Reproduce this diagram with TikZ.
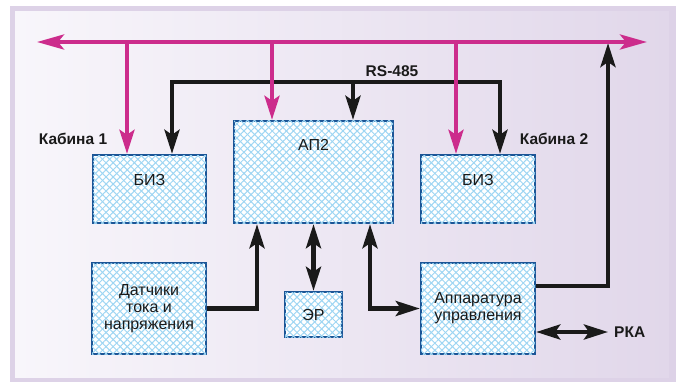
\documentclass[tikz,border=0pt]{standalone}
\usepackage{fontspec}
\setmainfont{Liberation Sans}
\usetikzlibrary{arrows.meta,patterns.meta}
\definecolor{mag}{HTML}{CC2C8C}
\definecolor{blk}{HTML}{1A1A1A}
\definecolor{boxblue}{HTML}{1B5596}
\definecolor{hatch}{HTML}{9ED6F3}
\definecolor{frameout}{HTML}{DDD2E7}
\definecolor{bgL}{HTML}{F8F6FB}
\definecolor{bgM}{HTML}{EDE7F3}
\definecolor{bgR}{HTML}{E1D7EA}
\tikzset{
  box/.style={draw=boxblue, line width=2.4pt, fill=white, inner sep=0pt, align=center,
    font=\fontsize{16}{17}\selectfont, text=blk,
    postaction={pattern={Lines[angle=45,distance=5pt,line width=1pt]}, pattern color=hatch},
    postaction={pattern={Lines[angle=-45,distance=5pt,line width=1pt]}, pattern color=hatch}},
  boxtext/.style={font=\fontsize{16}{17}\selectfont, text=blk, inner sep=0pt},
  lbl/.style={font=\fontsize{15.5}{18}\selectfont\bfseries, text=blk, inner sep=0pt},
  magline/.style={draw=mag, line width=4pt},
  blkline/.style={draw=blk, line width=4.2pt},
  stl/.tip={Stealth[length=24pt,width=15pt,inset=5pt]},
  bstl/.tip={Stealth[length=27pt,width=15pt,inset=6pt]}
}
\begin{document}
\begin{tikzpicture}[x=1pt,y=-1pt]
\useasboundingbox (0,0) rectangle (676,382);
\fill[frameout] (10,6) rectangle (676,382);
\shade[left color=bgL, middle color=bgM, right color=bgR] (15,12) rectangle (669,377);

% boxes
\node[box, minimum width=113pt, minimum height=68pt] (biz1) at (149.5,189) {};
\node[boxtext] (biz1t) at (149.5,180) {БИЗ};
\node[box, minimum width=159pt, minimum height=102pt] (ap2) at (313.5,172) {};
\node[boxtext] (ap2t) at (313.5,145) {АП2};
\node[box, minimum width=114pt, minimum height=68pt] (biz2) at (478,189) {};
\node[boxtext] (biz2t) at (478,180) {БИЗ};
\node[box, minimum width=114pt, minimum height=91pt] (dat) at (149,308.5) {Датчики\\тока и\\напряжения};
\node[box, minimum width=57pt, minimum height=45pt] (er) at (313.5,314.5) {ЭР};
\node[box, minimum width=114pt, minimum height=91pt] (app) at (478,308.5) {Аппаратура\\управления};

% labels
\node[lbl] (cab1) at (73,139) {Кабина 1};
\node[lbl] (cab2) at (554,139) {Кабина 2};
\node[lbl] (rs) at (392,71) {RS-485};
\node[lbl, anchor=west] (rka) at (614,332) {РКА};

% coordinates
\coordinate (busL) at (37,42);
\coordinate (busR) at (647,42);
\coordinate (m1) at (127,42);
\coordinate (m2) at (272,42);
\coordinate (m3) at (456,42);
\coordinate (r1) at (172,82);
\coordinate (r2) at (353,82);
\coordinate (r3) at (500,82);
\coordinate (c1) at (257,0);
\coordinate (c3) at (370,0);
\coordinate (c4) at (0,286);
\coordinate (c5) at (608,43);

% black connectors
\draw[blkline, stl-stl] (r1 |- biz1.north) -- (r1) -- (r3) -- (r3 |- biz2.north);
\draw[blkline, -stl] (r2) -- (r2 |- ap2.north);
\draw[blkline, -stl] (dat.east) -| (c1 |- ap2.south);
\draw[blkline, stl-stl] (ap2.south) -- (er.north);
\draw[blkline, stl-stl] (c3 |- ap2.south) |- (app.west);
\draw[blkline, -stl] (app.east |- c4) -| (c5);
\draw[blkline, stl-stl] (app.east |- rka.west) -- ([xshift=-6pt]rka.west);

% magenta bus
\draw[magline, bstl-bstl] (busL) -- (busR);
\draw[magline, -stl] (m1) -- (m1 |- biz1.north);
\draw[magline, -stl] (m2) -- (m2 |- ap2.north);
\draw[magline, -stl] (m3) -- (m3 |- biz2.north);
\end{tikzpicture}
\end{document}
